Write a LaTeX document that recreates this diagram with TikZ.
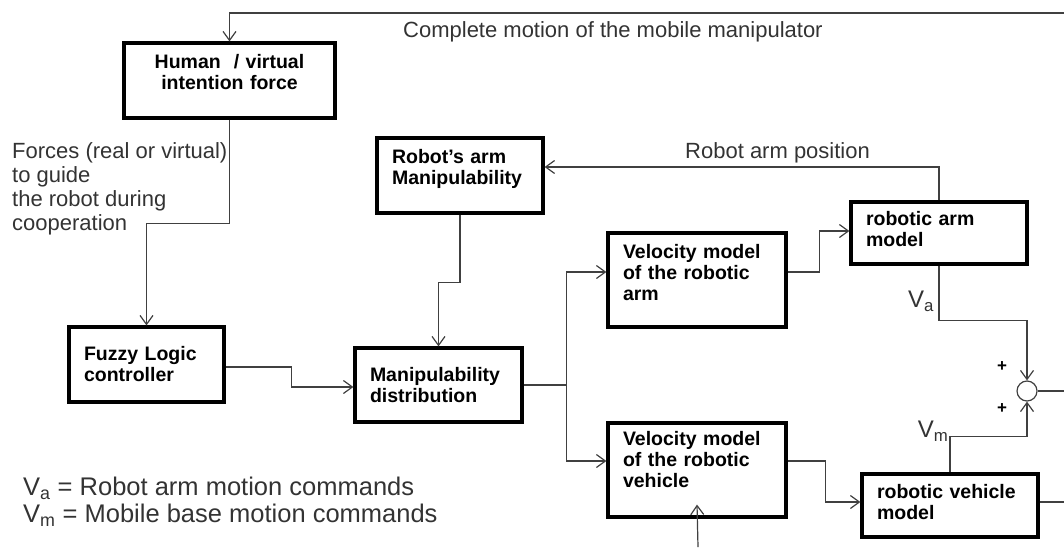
\documentclass[tikz,border=0pt]{standalone}
\usepackage{fontspec}
\setmainfont{Liberation Sans}
\usepackage{xcolor}
\usepackage{tikz}
\usetikzlibrary{arrows.meta,positioning,calc}
\definecolor{wire}{HTML}{404040}
\definecolor{ink}{HTML}{333333}
\newcommand{\lift}[1]{\\[#1]\mbox{}}

\begin{document}
\begin{tikzpicture}[
      x=1pt, y=-1pt,
      box/.style = {draw, line width=3.2pt, rectangle, align=left, inner xsep=15pt, inner ysep=3pt,
                    font=\fontsize{19.5}{21}\selectfont\bfseries},
      lbl/.style = {inner sep=0pt, text=ink, font=\fontsize{22}{24}\selectfont},
      vlbl/.style = {inner sep=0pt, text=ink, font=\fontsize{24}{26}\selectfont},
      pls/.style = {inner sep=0pt, font=\fontsize{17}{17}\selectfont\bfseries},
      line/.style = {draw=wire, line width=1.2pt},
      conn/.style = {line, -{Straight Barb[length=9pt,width=13pt]}}
    ]
    \useasboundingbox (0,0) rectangle (1064,547);

    \node (human) [box, align=center, text width=181pt, minimum height=75pt] at (229.5,80.5)
      {Human \ / virtual\\intention force\lift{-4pt}};
    \node (fuzzy) [box, text width=125pt, minimum height=75pt] at (146.5,364.5)
      {Fuzzy Logic\\controller};
    \node (rarm) [box, text width=136pt, minimum height=75pt] at (460,175.5)
      {Robot's arm\\Manipulability\lift{-3pt}};
    \node (manip) [box, text width=137pt, minimum height=74pt] at (438.5,385)
      {Manipulability\\distribution};
    \node (velarm) [box, text width=148pt, minimum height=94pt] at (697,280)
      {Velocity model\\of the robotic\\arm\lift{-5pt}};
    \node (velveh) [box, text width=148pt, minimum height=94pt] at (697,470)
      {Velocity model\\of the robotic\\vehicle\lift{1pt}};
    \node (armmodel) [box, text width=146pt, minimum height=62pt] at (939,233)
      {robotic arm\\model\lift{-13pt}};
    \node (vehmodel) [box, text width=146pt, minimum height=63pt] at (950,505.5)
      {robotic vehicle\\model\lift{-13pt}};
    \node (sum) [circle, draw=wire, line width=1.2pt, minimum size=20pt, inner sep=0pt] at (1027,391) {};

    \node (motion) [lbl, anchor=west] at (403,32) {Complete motion of the mobile manipulator};
    \node (armpos) [lbl, anchor=west] at (685,153) {Robot arm position};
    \node (forces) [lbl, anchor=west, align=left] at (12,189)
      {Forces (real or virtual)\\to guide\\the robot during\\cooperation};
    \node (va) [vlbl] at (921,301) {V\textsubscript{a}};
    \node (vm) [vlbl] at (933,431) {V\textsubscript{m}};
    \node (plusa) [pls] at (1002,367) {+};
    \node (plusm) [pls] at (1002,409) {+};
    \node (legend) [vlbl, anchor=west, align=left, font=\fontsize{25.5}{27}\selectfont] at (23,502)
      {V\textsubscript{a} = Robot arm motion commands\\V\textsubscript{m} = Mobile base motion commands};

    \coordinate (topright) at (1064,13);
    \coordinate (sumout) at (1064,391);
    \coordinate (vehout) at (1064,502);
    \coordinate (vehin) at (698,547);

    \draw [conn] (topright) -| (human.north);
    \draw [conn] (human.south) -- ++(0,104) -| (fuzzy.north);
    \draw [conn] ([yshift=-2.5pt]fuzzy.east) -- ++(66,0) |- ([yshift=-2pt]manip.west);
    \draw [conn] (rarm.south) -- ++(0,68) -| (manip.north);
    \draw [line] (manip.east) -- ++(43,0) coordinate (split);
    \draw [conn] (split) |- ([yshift=8pt]velarm.west);
    \draw [conn] (split) |- ([yshift=9pt]velveh.west);
    \draw [conn] ([yshift=8pt]velarm.east) -- ++(32,0) |- ([yshift=2pt]armmodel.west);
    \draw [conn] ([yshift=9pt]velveh.east) -- ++(38,0) |- ([yshift=3.5pt]vehmodel.west);
    \draw [conn] (armmodel.north) |- ([yshift=8.5pt]rarm.east);
    \draw [conn] (armmodel.south) -- ++(0,55) -| (sum.north);
    \draw [conn] (vehmodel.north) -- ++(0,-36) -| (sum.south);
    \draw [line] (sum.east) -- (sumout);
    \draw [line] ([yshift=3.5pt]vehmodel.east) -- (vehout);
    \draw [conn] (vehin) -- ([yshift=14pt]velveh.south);
  \end{tikzpicture}
\end{document}
